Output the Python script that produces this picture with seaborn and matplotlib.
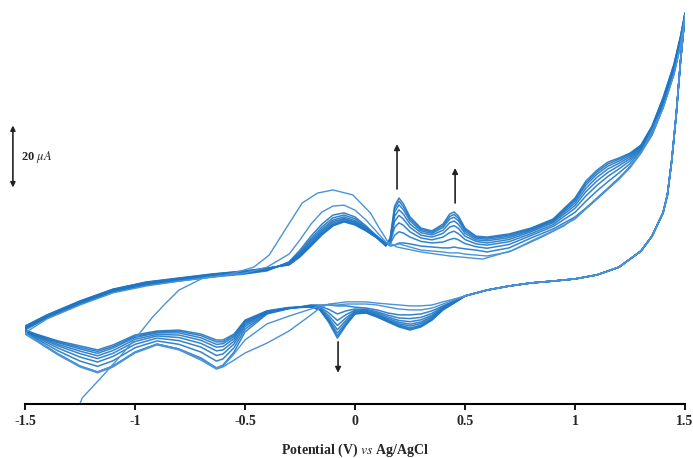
import matplotlib
matplotlib.use("Agg")
import matplotlib.pyplot as plt
import pandas as pd
import seaborn as sns

# ---------------- data (potential in V vs Ag/AgCl, current in uA) ----------------
E_fwd = [-1.50, -1.40, -1.25, -1.10, -0.95, -0.80, -0.65, -0.50, -0.40, -0.30, -0.25, -0.20,
         -0.15, -0.10, -0.05, 0.00, 0.05, 0.10, 0.14, 0.16, 0.18, 0.20, 0.22, 0.25, 0.30,
         0.35, 0.40, 0.43, 0.45, 0.47, 0.50, 0.55, 0.60, 0.70, 0.80, 0.90, 1.00, 1.05, 1.10,
         1.15, 1.20, 1.25, 1.30, 1.35, 1.40, 1.45, 1.48, 1.50]
E_rev_head = [1.50, 1.48, 1.46, 1.44, 1.42, 1.40, 1.35, 1.30, 1.20, 1.10, 1.00, 0.90, 0.80,
              0.70, 0.60, 0.50]
E_rev_tail = [0.45, 0.40, 0.35, 0.30, 0.25, 0.20, 0.15, 0.10, 0.05, 0.00, -0.04, -0.08, -0.12,
              -0.16, -0.20, -0.30, -0.40, -0.50, -0.55, -0.60, -0.63, -0.70, -0.80, -0.90,
              -1.00, -1.10, -1.17, -1.25, -1.35, -1.45, -1.50]
E_c1_fwd = [-1.27, -1.24, -1.16, -1.07, -1.00, -0.92, -0.86, -0.80, -0.69, -0.58, -0.46, -0.39,
            -0.31, -0.24, -0.17, -0.10, -0.01, 0.07, 0.11, 0.15, 0.19, 0.30, 0.43, 0.58, 0.72,
            0.84, 0.95, 1.02, 1.10, 1.20, 1.30, 1.40, 1.45, 1.48, 1.50]

# return sweep from +1.5 V, identical for all cycles
I_rev_head = [91.9, 77.4, 59.7, 45.2, 33.9, 28.1, 20.6, 15.8, 10.6, 8.1, 6.8, 6.1, 5.5, 4.5, 3.2, 1.3]

cyc1_fwd = [-37.1, -31.6, -25.5, -18.4, -12.6, -5.5, -1.0, 3.2, 7.1, 8.1, 10.6, 14.5, 23.5, 31.3,
            34.5, 35.5, 33.9, 28.1, 23.2, 18.7, 17.1, 15.5, 14.2, 13.2, 16.1, 20.0, 23.9, 27.7,
            32.6, 39.0, 47.4, 61.9, 72.9, 82.3, 91.6]
cyc1_rev = [0.3, -0.6, -1.6, -1.9, -1.9, -1.6, -1.3, -1.0, -0.6, -0.6, -0.6, -1.0, -1.3, -2.6,
            -4.8, -10.0, -13.9, -17.1, -19.4, -21.6, -22.3, -19.4, -16.1, -14.5, -17.1, -21.6,
            -23.5, -21.6, -17.7, -13.2, -11.0]

cyc2_fwd = [-10.6, -6.1, -1.6, 2.3, 4.5, 6.1, 7.4, 8.7, 10.6, 14.8, 19.4, 24.5, 28.4, 30.3, 30.6,
            29.0, 25.8, 21.9, 18.7, 17.7, 17.7, 18.1, 17.7, 17.1, 16.1, 15.8, 15.5, 15.2, 15.2,
            15.2, 14.8, 14.5, 14.2, 15.5, 19.0, 22.3, 26.1, 29.4, 32.6, 35.8, 39.0, 42.6, 47.4,
            53.2, 61.9, 72.9, 82.3, 91.6]
cyc2_rev = [0.0, -1.3, -2.6, -3.2, -3.2, -2.9, -2.3, -1.6, -1.3, -1.3, -1.3, -1.6, -1.6, -1.9,
            -2.9, -5.2, -7.7, -12.9, -17.4, -21.3, -21.9, -19.0, -15.8, -14.2, -16.8, -21.3,
            -23.2, -21.3, -17.4, -12.9, -10.6]

cyc3_fwd = [-9.7, -5.8, -1.3, 2.6, 4.8, 6.1, 7.4, 8.4, 9.4, 12.3, 16.1, 20.6, 24.5, 27.4, 28.1,
            26.8, 23.9, 20.6, 18.4, 17.4, 17.7, 18.4, 18.4, 18.1, 17.4, 17.1, 16.8, 16.8, 17.1,
            16.8, 16.5, 16.1, 15.5, 16.8, 20.0, 22.9, 26.8, 29.7, 32.9, 36.1, 39.4, 42.9, 47.7,
            53.2, 61.9, 72.9, 82.3, 91.6]
cyc4_fwd = [-9.4, -5.6, -1.1, 2.8, 5.0, 6.3, 7.6, 8.6, 9.6, 12.1, 15.5, 19.8, 23.6, 26.5, 27.4,
            26.2, 23.5, 20.5, 18.2, 18.1, 20.9, 22.0, 21.6, 20.3, 18.9, 18.4, 18.7, 19.5, 19.9,
            19.4, 18.2, 17.2, 16.7, 17.9, 20.8, 23.7, 28.3, 31.9, 35.2, 38.2, 41.0, 44.0, 48.3,
            53.9, 62.7, 73.7, 83.0, 91.9]
cyc5_fwd = [-9.1, -5.4, -0.9, 3.0, 5.2, 6.5, 7.8, 8.8, 9.8, 11.9, 15.1, 19.2, 22.9, 25.8, 26.8,
            25.6, 23.2, 20.3, 18.0, 18.6, 23.4, 24.9, 24.1, 22.0, 20.0, 19.4, 20.3, 21.7, 22.2,
            21.4, 19.5, 18.1, 17.7, 18.8, 21.4, 24.3, 29.6, 33.6, 37.0, 39.9, 42.3, 44.9, 48.7,
            54.5, 63.4, 74.3, 83.6, 92.1]
cyc6_fwd = [-8.9, -5.2, -0.7, 3.1, 5.4, 6.7, 8.0, 9.0, 9.9, 11.7, 14.8, 18.7, 22.4, 25.3, 26.3,
            25.2, 22.9, 20.2, 17.8, 19.0, 25.4, 27.3, 26.1, 23.4, 20.9, 20.3, 21.5, 23.5, 24.0,
            23.1, 20.6, 18.9, 18.4, 19.5, 22.0, 24.9, 30.5, 35.0, 38.4, 41.2, 43.3, 45.6, 49.1,
            55.0, 63.9, 74.9, 84.1, 92.2]
cyc7_fwd = [-8.7, -5.1, -0.6, 3.3, 5.5, 6.8, 8.1, 9.1, 10.1, 11.6, 14.5, 18.2, 21.9, 24.8, 26.0,
            24.9, 22.7, 20.2, 17.7, 19.3, 27.0, 29.1, 27.7, 24.5, 21.7, 21.0, 22.5, 24.9, 25.5,
            24.4, 21.5, 19.4, 19.1, 20.1, 22.4, 25.3, 31.3, 36.1, 39.6, 42.3, 44.1, 46.2, 49.4,
            55.4, 64.3, 75.3, 84.5, 92.3]
cyc8_fwd = [-8.6, -5.0, -0.5, 3.4, 5.6, 6.9, 8.2, 9.2, 10.2, 11.5, 14.2, 17.9, 21.5, 24.4, 25.6,
            24.6, 22.5, 20.1, 17.6, 19.6, 28.4, 30.7, 29.1, 25.5, 22.3, 21.5, 23.4, 26.1, 26.7,
            25.6, 22.2, 19.9, 19.6, 20.6, 22.7, 25.6, 32.0, 37.1, 40.6, 43.2, 44.8, 46.7, 49.7,
            55.7, 64.7, 75.6, 84.8, 92.4]
cyc9_fwd = [-8.5, -4.9, -0.4, 3.4, 5.7, 7.0, 8.3, 9.3, 10.2, 11.4, 14.1, 17.6, 21.2, 24.1, 25.4,
            24.4, 22.4, 20.0, 17.5, 19.8, 29.4, 31.9, 30.1, 26.2, 22.8, 21.9, 24.0, 26.9, 27.6,
            26.4, 22.7, 20.3, 20.0, 21.0, 23.0, 25.9, 32.5, 37.8, 41.3, 43.9, 45.4, 47.1, 49.8,
            55.9, 65.0, 75.9, 85.0, 92.5]
cyc10_fwd = [-8.4, -4.8, -0.3, 3.5, 5.8, 7.1, 8.4, 9.4, 10.3, 11.3, 13.9, 17.4, 21.0, 23.9, 25.2,
             24.2, 22.3, 20.0, 17.4, 20.0, 30.3, 32.9, 31.0, 26.8, 23.2, 22.3, 24.5, 27.7, 28.4,
             27.1, 23.2, 20.6, 20.3, 21.3, 23.2, 26.1, 32.9, 38.4, 41.9, 44.5, 45.8, 47.4, 50.0,
             56.1, 65.2, 76.1, 85.2, 92.6]

cyc3_rev = [-0.3, -1.9, -3.5, -4.5, -4.8, -4.8, -4.2, -3.2, -2.6, -2.3, -1.9, -1.9, -1.6, -1.6,
            -1.6, -2.8, -4.5, -10.3, -16.8, -21.0, -21.9, -18.7, -15.8, -14.2, -16.8, -21.3,
            -23.2, -21.3, -17.4, -12.9, -10.3]
cyc4_rev = [-0.5, -2.2, -4.3, -5.6, -6.0, -5.8, -4.9, -3.8, -3.0, -2.9, -3.5, -4.5, -3.0, -2.0,
            -1.8, -2.7, -4.3, -9.4, -15.4, -19.0, -19.7, -16.8, -14.3, -13.2, -15.4, -19.6,
            -21.4, -19.7, -16.4, -12.4, -10.2]
cyc5_rev = [-0.6, -2.5, -4.9, -6.4, -7.0, -6.6, -5.5, -4.2, -3.3, -3.3, -4.7, -6.6, -4.1, -2.3,
            -1.9, -2.7, -4.1, -8.6, -14.2, -17.4, -17.9, -15.2, -13.1, -12.3, -14.3, -18.2,
            -20.0, -18.4, -15.5, -12.0, -10.0]
cyc6_rev = [-0.7, -2.7, -5.3, -7.1, -7.8, -7.2, -6.0, -4.6, -3.6, -3.6, -5.7, -8.2, -5.0, -2.6,
            -2.0, -2.6, -3.9, -8.0, -13.3, -16.1, -16.4, -14.0, -12.1, -11.6, -13.4, -17.2,
            -18.9, -17.3, -14.8, -11.7, -9.9]
cyc7_rev = [-0.8, -2.9, -5.7, -7.6, -8.4, -7.7, -6.4, -4.9, -3.8, -3.9, -6.5, -9.6, -5.7, -2.8,
            -2.1, -2.6, -3.8, -7.5, -12.5, -15.0, -15.2, -13.0, -11.3, -11.1, -12.7, -16.3,
            -18.0, -16.5, -14.3, -11.5, -9.9]
cyc8_rev = [-0.9, -3.0, -6.1, -8.1, -9.0, -8.1, -6.7, -5.2, -4.0, -4.2, -7.2, -10.7, -6.3, -3.0,
            -2.2, -2.5, -3.7, -7.1, -11.9, -14.1, -14.3, -12.2, -10.6, -10.6, -12.1, -15.5,
            -17.2, -15.8, -13.8, -11.3, -9.8]
cyc9_rev = [-1.0, -3.1, -6.3, -8.4, -9.4, -8.4, -6.9, -5.3, -4.1, -4.4, -7.7, -11.6, -6.7, -3.1,
            -2.3, -2.5, -3.6, -6.8, -11.4, -13.5, -13.5, -11.5, -10.1, -10.3, -11.7, -15.0,
            -16.6, -15.3, -13.5, -11.1, -9.7]
cyc10_rev = [-1.0, -3.2, -6.5, -8.7, -9.7, -8.7, -7.1, -5.5, -4.2, -4.5, -8.1, -12.3, -7.1, -3.2,
             -2.3, -2.4, -3.5, -6.5, -11.0, -12.9, -12.9, -11.0, -9.7, -10.0, -11.3, -14.5,
             -16.1, -14.8, -13.2, -11.0, -9.7]

x_ticks = [-1.5, -1.0, -0.5, 0.0, 0.5, 1.0, 1.5]
x_tick_labels = ["-1.5", "-1", "-0.5", "0", "0.5", "1", "1.5"]
scale_bar_uA = 20

# ---------------- assemble long-form tables ----------------
def cycle_frame(name, e_forward, i_forward, i_reverse_tail):
    e = list(e_forward) + E_rev_head + E_rev_tail
    i = list(i_forward) + I_rev_head + list(i_reverse_tail)
    return pd.DataFrame({"E": e, "I": i, "cycle": name, "step": range(len(e))})

early = pd.concat([
    cycle_frame("1", E_c1_fwd, cyc1_fwd, cyc1_rev),
    cycle_frame("2", E_fwd, cyc2_fwd, cyc2_rev),
])
bundle_fwd = [cyc3_fwd, cyc4_fwd, cyc5_fwd, cyc6_fwd, cyc7_fwd, cyc8_fwd, cyc9_fwd, cyc10_fwd]
bundle_rev = [cyc3_rev, cyc4_rev, cyc5_rev, cyc6_rev, cyc7_rev, cyc8_rev, cyc9_rev, cyc10_rev]
bundle = pd.concat([cycle_frame(str(k + 3), E_fwd, f, r)
                    for k, (f, r) in enumerate(zip(bundle_fwd, bundle_rev))])

# ---------------- plotting ----------------
sns.set_theme(style="white")
plt.rcParams["font.family"] = ["Liberation Serif", "DejaVu Serif"]
plt.rcParams["mathtext.fontset"] = "stix"

fig = plt.figure(figsize=(6.93, 4.58), dpi=100)
ax = fig.add_axes([25 / 693, 54 / 458, 660 / 693, 399 / 458])

sns.lineplot(data=bundle, x="E", y="I", units="cycle", estimator=None, sort=False,
             color="#1f76c4", lw=1.1, alpha=0.9, legend=False, ax=ax)
sns.lineplot(data=early, x="E", y="I", units="cycle", estimator=None, sort=False,
             color="#4b93d6", lw=1.0, legend=False, ax=ax)

ax.set_xlim(-1.5, 1.5)
ax.set_ylim((300 - 404) / 3.1, (300 - 5) / 3.1)

for side in ("left", "right", "top"):
    ax.spines[side].set_visible(False)
ax.spines["bottom"].set_color("black")
ax.spines["bottom"].set_linewidth(1.5)
ax.set_yticks([])
ax.set_xticks(x_ticks)
ax.set_xticklabels(x_tick_labels, fontweight="bold", fontsize=10)
ax.tick_params(axis="x", direction="out", length=4, width=1.3, color="black", pad=4,
               bottom=True)
ax.set_ylabel("")
ax.set_xlabel(r"Potential (V) $\mathit{vs}$ Ag/AgCl", fontsize=10, fontweight="bold",
              labelpad=10)

# cycling trend arrows
arrow_kw = dict(arrowstyle="-|>", color="#222222", lw=1.2, mutation_scale=8,
                shrinkA=0, shrinkB=0)
ax.annotate("", xy=(0.191, 50.3), xytext=(0.191, 35.8), arrowprops=arrow_kw)
ax.annotate("", xy=(0.455, 42.6), xytext=(0.455, 31.3), arrowprops=arrow_kw)
ax.annotate("", xy=(-0.077, -23.5), xytext=(-0.077, -13.5), arrowprops=arrow_kw)

# 20 uA scale bar
bar_kw = dict(arrowstyle="<|-|>", color="#222222", lw=1.2, mutation_scale=7,
              shrinkA=0, shrinkB=0)
ax.annotate("", xy=(-1.555, 46.3 + scale_bar_uA / 2), xytext=(-1.555, 46.3 - scale_bar_uA / 2),
            arrowprops=bar_kw, annotation_clip=False)
ax.text(-1.52, 46.0, r"20 $\mu A$", fontsize=9, fontweight="bold", ha="left", va="center",
        clip_on=False)

fig.savefig("out.png", dpi=100, facecolor="white")
